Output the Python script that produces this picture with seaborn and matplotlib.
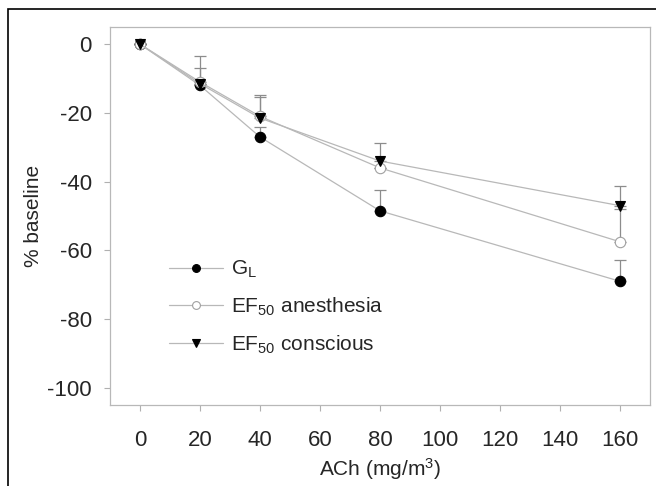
import pandas as pd
import numpy as np
import matplotlib
matplotlib.use("Agg")
import matplotlib.pyplot as plt
import seaborn as sns
from matplotlib.patches import Rectangle

# dane
ach = [0, 20, 40, 80, 160]
gl = [0, -12, -27, -48.5, -69]
ef50_anest = [0, -11, -21, -36, -57.5]
ef50_consc = [0, -11.5, -21.5, -34, -47]
# gorne konce slupkow bledu
gl_top = [0, -12, -24, -42.4, -62.8]
anest_top = [0, -3.4, -14.8, -36, -48]
consc_top = [0, -6.9, -15.3, -28.8, -41.4]

labels = ["G$_\\mathregular{L}$", "EF$_{50}$ anesthesia", "EF$_{50}$ conscious"]

df = pd.DataFrame({
    "ACh": ach * 3,
    "val": gl + ef50_anest + ef50_consc,
    "top": gl_top + anest_top + consc_top,
    "grupa": [labels[0]] * 5 + [labels[1]] * 5 + [labels[2]] * 5,
})

sns.set_style("white")
plt.rcParams["font.family"] = ["Liberation Sans", "DejaVu Sans"]
plt.rcParams["mathtext.fontset"] = "custom"
plt.rcParams["mathtext.rm"] = "Liberation Sans"
plt.rcParams["mathtext.it"] = "Liberation Sans:italic"
plt.rcParams["axes.unicode_minus"] = False

fig = plt.figure(figsize=(6.56, 4.86), dpi=100)
ax = fig.add_axes([110 / 656, 81 / 486, 540 / 656, 378 / 486])

line_col = "#b8b8b8"
err_col = "#8c8c8c"

# slupki bledu (tylko w gore)
for g in labels:
    d = df[df["grupa"] == g]
    up = (d["top"] - d["val"]).clip(lower=0).values
    ax.errorbar(d["ACh"], d["val"], yerr=[np.zeros(len(up)), up], fmt="none",
                ecolor=err_col, elinewidth=0.9, capsize=4.5, capthick=0.9, zorder=1)

styles = {
    labels[0]: dict(marker="o", mfc="black", mec="black"),
    labels[1]: dict(marker="o", mfc="white", mec="#a0a0a0"),
    labels[2]: dict(marker="v", mfc="black", mec="black"),
}
for g in labels:
    d = df[df["grupa"] == g]
    st = styles[g]
    sns.lineplot(data=d, x="ACh", y="val", ax=ax, color=line_col, lw=0.9,
                 marker=st["marker"], markerfacecolor=st["mfc"],
                 markeredgecolor=st["mec"], markersize=7.5, markeredgewidth=0.8,
                 label=g, zorder=3)

ax.set_xlim(-10, 170)
ax.set_ylim(-105, 5)
ax.set_xticks(range(0, 161, 20))
ax.set_yticks(range(-100, 1, 20))
ax.tick_params(axis="both", labelsize=16, color="#b0b0b0", length=4,
               width=0.8, direction="out", bottom=True, left=True)
ax.tick_params(axis="x", pad=14)
ax.tick_params(axis="y", pad=9)
for s in ax.spines.values():
    s.set_color("#b8b8b8")
    s.set_linewidth(0.9)

ax.set_xlabel("ACh (mg/m$^3$)", fontsize=15, labelpad=4)
ax.set_ylabel("% baseline", fontsize=15, labelpad=3)

leg = ax.legend(loc="lower left", bbox_to_anchor=(0.075, 0.08), frameon=False,
                fontsize=15, markerscale=0.75, handlelength=2.6, handletextpad=0.35,
                labelspacing=0.75)

# ramka figury
fig.add_artist(Rectangle((8 / 656, -0.1), 1.2, 1.1 - 9 / 486 + 0.0,
                         transform=fig.transFigure, fill=False,
                         edgecolor="black", lw=1.2, clip_on=False))

fig.savefig("out.png", dpi=100)
